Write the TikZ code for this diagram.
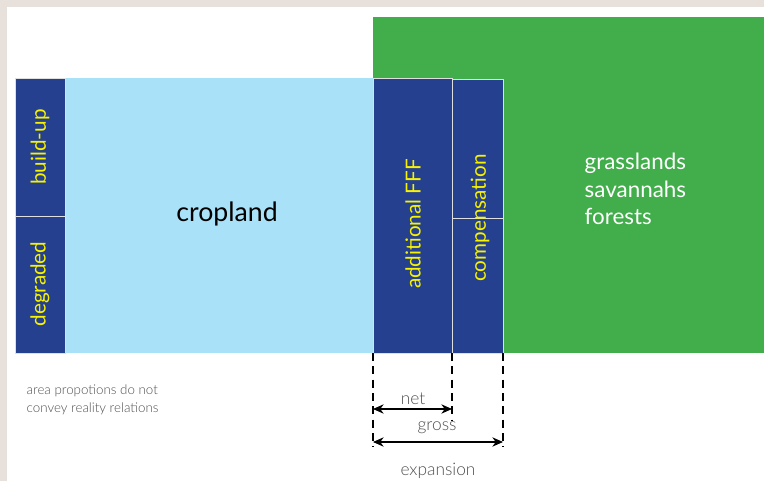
\documentclass[tikz,border=0pt]{standalone}
\usepackage{fontspec}
\setmainfont{Lato Light}
\newfontfamily\latoregular{Lato}
\usetikzlibrary{arrows.meta}
\definecolor{sand}{HTML}{E8E0DA}
\definecolor{meadow}{HTML}{42AD4B}
\definecolor{sky}{HTML}{A9E1F9}
\definecolor{navy}{HTML}{24408E}
\definecolor{lemon}{HTML}{F8F200}
\definecolor{ink}{HTML}{505050}
\tikzset{
  landbox/.style={fill=navy, draw=white!75!gray, line width=0.6pt},
  sidelabel/.style={rotate=90, text=lemon, font=\latoregular\fontsize{15.5}{18}\selectfont},
  measure/.style={ink, font=\fontsize{13}{15}\selectfont},
  guide/.style={black, dashed, line width=1.2pt, dash pattern=on 6pt off 4pt},
  span/.style={{Stealth[length=8pt,width=7pt]}-{Stealth[length=8pt,width=7pt]}, line width=0.8pt}
}
\begin{document}
\begin{tikzpicture}[x=0.75pt, y=-0.75pt]
   \fill[sand] (0, 0) rectangle (764, 481);
   \fill[white] (7, 7) rectangle (764, 481);
   \fill[meadow] (373, 17) rectangle (764, 353);
   \fill[sky] (65, 78) rectangle (373, 353);
   \filldraw[landbox] (15, 78) rectangle (65, 216);
   \filldraw[landbox] (15, 216) rectangle (65, 353);
   \filldraw[landbox] (373, 78) rectangle (452, 353);
   \filldraw[landbox] (452, 79) rectangle (503, 218);
   \filldraw[landbox] (452, 218) rectangle (503, 353);
   \node[sidelabel] (buildup) at (40, 147) {build-up};
   \node[sidelabel] (degraded) at (40, 284) {degraded};
   \node[sidelabel] (fff) at (413, 224) {additional FFF};
   \node[sidelabel] (comp) at (480, 218) {compensation};
   \node[font=\latoregular\fontsize{20}{22}\selectfont] (cropland) at (227, 214) {cropland};
   \node[anchor=west, align=left, text=white, font=\latoregular\fontsize{16.8}{20.5}\selectfont] (natural) at (580, 189) {grasslands\\savannahs\\forests};
   \node[anchor=west, align=left, ink, font=\fontsize{10}{13.5}\selectfont] (note) at (22, 400) {area propotions do not\\convey reality relations};
   % expansion brackets
   \coordinate (a) at (373, 353);
   \coordinate (b) at (452, 353);
   \coordinate (c) at (503, 353);
   \draw[guide] (a) -- ++(0, 94);
   \draw[guide] (b) -- ++(0, 68);
   \draw[guide] (c) -- ++(0, 94);
   \draw[span] (373, 409) coordinate (n1) -- (452, 409) coordinate (n2);
   \draw[span] (373, 442) coordinate (g1) -- (503, 442) coordinate (g2);
   \node[measure] (net) at (413, 399) {net};
   \node[measure] (gross) at (437, 428) {gross};
   \node[measure] (expansion) at (438, 471) {expansion};
\end{tikzpicture}
\end{document}
